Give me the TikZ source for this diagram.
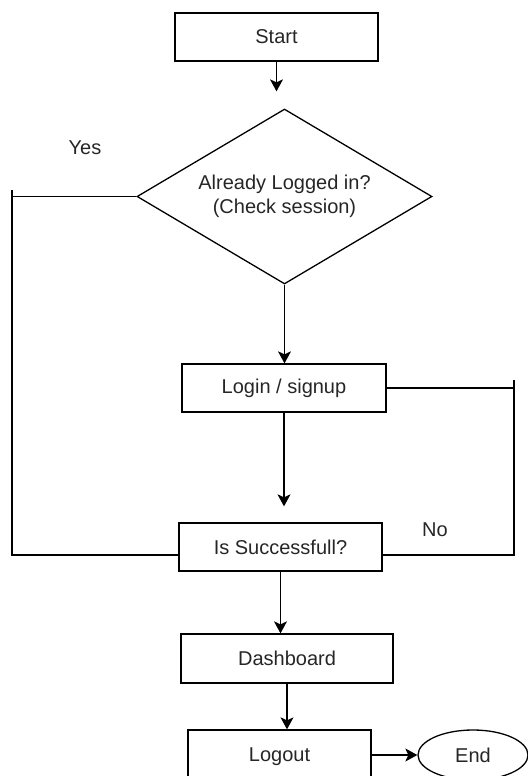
\documentclass[tikz,border=0pt]{standalone}
\usepackage{fontspec}
\setmainfont{Liberation Sans}
\usetikzlibrary{positioning,shapes.geometric,arrows.meta}

\tikzset{
	every node/.style={font=\fontsize{10}{12}\selectfont,text=black!85},
	stepbox/.style={draw,line width=0.65pt,minimum height=24pt,inner sep=2pt},
	decision/.style={draw,diamond,line width=0.65pt,aspect=1.686,inner sep=0pt,align=center,minimum width=147.5pt,minimum height=87.5pt},
	terminal/.style={draw,ellipse,line width=0.65pt,minimum width=55pt,minimum height=25pt},
	flow/.style={line width=0.65pt,-{Stealth[length=6pt,width=6.5pt,inset=1.5pt]}},
	plain/.style={line width=0.65pt},
}

\begin{document}
\begin{tikzpicture}[x=0.5pt,y=-0.5pt]
		\useasboundingbox (0,0) rectangle (528,776);
		
		\node[stepbox,minimum width=101.5pt] (start) at (276.5,37) {Start};
		\node[decision] (check) at (284.5,196.5) {Already Logged in?\\(Check session)};
		\node[stepbox,minimum width=102pt] (login) at (284,388) {Login / signup};
		\node[stepbox,minimum width=101.5pt] (success) at (280.5,547) {Is Successfull?};
		\node[stepbox,minimum width=106pt,minimum height=24.5pt] (dash) at (287,658.5) {Dashboard};
		\node[stepbox,minimum width=91.5pt,minimum height=27pt] (logout) at (279.5,757) {Logout};
		\node[terminal] (end) at (473,755) {End};
		
		\node (yes) at (85,148) {Yes};
		\node (no) at (435,530) {No};
		
		% loop-back corners
		\coordinate (lefttop) at (12,190);
		\coordinate (leftbot) at (12,555);
		\coordinate (righttop) at (514,380);
		\coordinate (rightbot) at (514,555);
		
		\draw[flow,shorten >=8.5pt] (start.south) -- (start.south |- check.north);
		\draw[flow] (check.south) -- (check.south |- login.north);
		\draw[flow,shorten >=8pt] (login.south) -- (login.south |- success.north);
		\draw[flow] (success.south) -- (success.south |- dash.north);
		\draw[flow] (dash.south) -- (dash.south |- logout.north);
		\draw[flow] (logout.east |- end) -- (end.west);
		
		\draw[plain] (check.west) -- (check.west -| lefttop);
		\draw[plain] (lefttop) -- (leftbot) -- (leftbot -| success.west);
		\draw[plain] (login.east) -- (login.east -| righttop);
		\draw[plain] (righttop) -- (rightbot) -- (rightbot -| success.east);
	\end{tikzpicture}
\end{document}
